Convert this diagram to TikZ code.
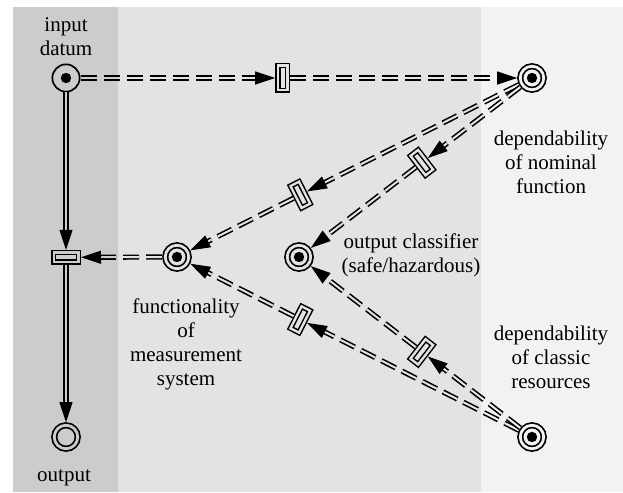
\documentclass[tikz,border=0pt]{standalone}
\usepackage{fontspec}
\setmainfont{Liberation Serif}
\usetikzlibrary{arrows.meta,decorations.markings}

\definecolor{bandA}{gray}{0.80}
\definecolor{bandB}{gray}{0.89}
\definecolor{bandC}{gray}{0.95}

\tikzset{
  place/.style={circle, draw, line width=1.7pt, inner sep=0pt},
  single/.style={minimum size=27.3pt, outer sep=0.85pt},
  dbl/.style={double distance=2.8pt, minimum size=23.5pt, outer sep=3.1pt},
  dot/.style={path picture={\fill[black] (path picture bounding box.center) circle[radius=5.2pt];}},
  trans/.style={rectangle, draw, sloped, line width=1.5pt, double distance=2.4pt,
    minimum width=9.6pt, minimum height=24.6pt, inner sep=0pt, outer sep=2.7pt},
  arc/.style={line width=1.6pt, double=\bandcol, double distance=2pt, shorten >=15pt},
  dasharc/.style={arc, dash pattern=on 16pt off 7pt},
  tipmark/.style={decoration={markings,
      mark=at position 1 with {\arrow[line width=1pt]{Triangle[length=20pt,width=13pt]}}},
    decorate},
  lbl/.style={align=center, inner sep=0pt, font=\rmfamily\fontsize{21}{24}\selectfont}
}

% the double strokes of all connectors; \bandcol fills the gap between them
\newcommand\netlines{%
  \draw[dasharc] (inp) -- (t1);
  \draw[dasharc] (t1) -- (depN);
  \draw[arc] (inp) -- (t6);
  \draw[arc] (t6) -- (out);
  \draw[dasharc] (func) -- (t6);
  \draw[dasharc] (depN) -- (t2);
  \draw[dasharc] (t2) -- (func);
  \draw[dasharc] (depN) -- (t3);
  \draw[dasharc] (t3) -- (cls);
  \draw[dasharc] (depC) -- (t4);
  \draw[dasharc] (t4) -- (func);
  \draw[dasharc] (depC) -- (t5);
  \draw[dasharc] (t5) -- (cls);
}

% solid arrow heads at the target end of every connector
\newcommand\nettips{%
  \path[tipmark] (inp) -- (t1);
  \path[tipmark] (t1) -- (depN);
  \path[tipmark] (inp) -- (t6);
  \path[tipmark] (t6) -- (out);
  \path[tipmark] (func) -- (t6);
  \path[tipmark] (depN) -- (t2);
  \path[tipmark] (t2) -- (func);
  \path[tipmark] (depN) -- (t3);
  \path[tipmark] (t3) -- (cls);
  \path[tipmark] (depC) -- (t4);
  \path[tipmark] (t4) -- (func);
  \path[tipmark] (depC) -- (t5);
  \path[tipmark] (t5) -- (cls);
}

\begin{document}
\begin{tikzpicture}[x=1pt,y=-1pt]
\useasboundingbox (0,0) rectangle (623,492);
\fill[white] (0,0) rectangle (623,492);
% background bands
\fill[bandA] (13,7) rectangle (118,492);
\fill[bandB] (118,7) rectangle (481,492);
\fill[bandC] (481,7) rectangle (623,492);

% places
\node[place, single, dot] (inp) at (66,78) {};
\node[place, dbl, double=bandA] (out) at (66,437) {};
\node[place, dbl, double=bandB, dot] (func) at (177,257) {};
\node[place, dbl, double=bandB, dot] (cls) at (299,257) {};
\node[place, dbl, double=bandC, dot] (depN) at (532,78) {};
\node[place, dbl, double=bandC, dot] (depC) at (532,437) {};

% transitions
\path (inp) -- node[trans, pos=0.463, double=bandB] (t1) {} (depN);
\path (inp) -- node[trans, pos=0.5, double=bandA] (t6) {} (out);
\path (depN) -- node[trans, pos=0.665, double=bandB] (t2) {} (func);
\path (depN) -- node[trans, pos=0.47, double=bandB] (t3) {} (cls);
\path (depC) -- node[trans, pos=0.665, double=bandB] (t4) {} (func);
\path (depC) -- node[trans, pos=0.47, double=bandB] (t5) {} (cls);

% connectors, drawn band by band
\foreach \xa/\xb/\col in {13/118/bandA, 118/481/bandB, 481/623/bandC}{
  \begin{scope}
    \clip (\xa,7) rectangle (\xb,492);
    \def\bandcol{\col}
    \netlines
  \end{scope}
}
\nettips

% labels
\node[lbl] (inpL) at (66,37) {input\\datum};
\node[lbl] (outL) at (64,478) {output};
\node[lbl] (funcL) at (186,344) {functionality\\of\\measurement\\system};
\node[lbl] (clsL) at (411,255) {output classifier\\(safe/hazardous)};
\node[lbl] (depNL) at (551,162) {dependability\\of nominal\\function};
\node[lbl] (depCL) at (551,357) {dependability\\of classic\\resources};
\end{tikzpicture}
\end{document}
